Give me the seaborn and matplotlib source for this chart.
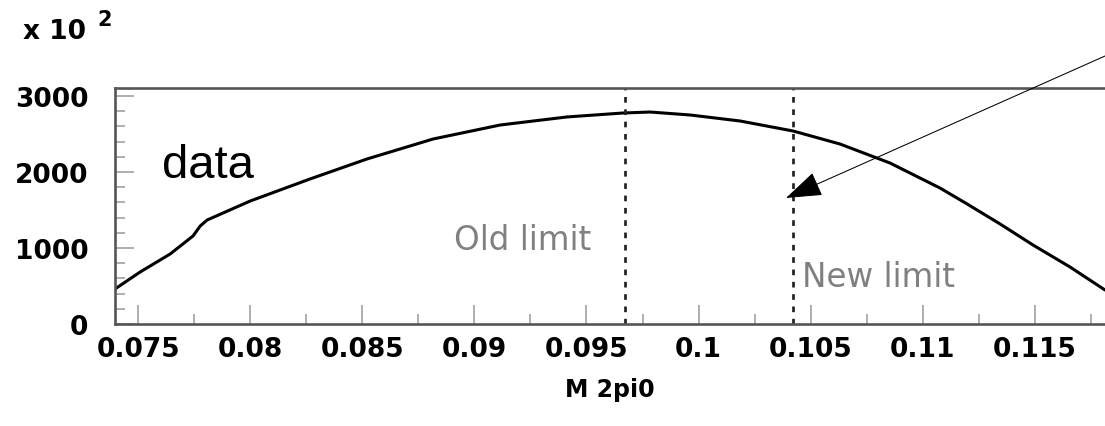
import numpy as np
import pandas as pd
import seaborn as sns
import matplotlib.pyplot as plt
from matplotlib.ticker import MultipleLocator, FuncFormatter

# M(2pi0) spectrum
mass = [0.07397, 0.07509, 0.07643, 0.07745, 0.07777, 0.07808, 0.08000, 0.08267,
        0.08521, 0.08816, 0.09115, 0.09413, 0.09663, 0.09784, 0.09962, 0.10185,
        0.10422, 0.10631, 0.10854, 0.11077, 0.11198, 0.11345, 0.11492, 0.11657,
        0.11813]
counts = [461, 684, 921, 1158, 1289, 1368, 1618, 1908,
          2171, 2434, 2618, 2724, 2776, 2789, 2750, 2671,
          2539, 2368, 2118, 1789, 1579, 1316, 1039, 750,
          447]

old_limit = 0.09672
new_limit = 0.10422
x_range = (0.07397, 0.11813)
y_range = (0, 3105)

df = pd.DataFrame({"mass": mass, "counts": counts})

sns.set_style("white")
plt.rcParams["font.family"] = ["DejaVu Sans"]
plt.rcParams["text.color"] = "black"

fig = plt.figure(figsize=(11.05, 4.27), dpi=100)
ax = fig.add_axes([115 / 1105, 102 / 427, 990 / 1105, 236 / 427])

sns.lineplot(data=df, x="mass", y="counts", color="black", linewidth=2.2, ax=ax)

dash = (0, (2.1, 2.45))
ax.axvline(old_limit, color="#222222", linewidth=1.95, linestyle=dash)
ax.axvline(new_limit, color="#222222", linewidth=1.95, linestyle=dash)

ax.set_xlim(*x_range)
ax.set_ylim(*y_range)

ax.xaxis.set_major_locator(MultipleLocator(0.005))
ax.xaxis.set_minor_locator(MultipleLocator(0.0025))
ax.yaxis.set_major_locator(MultipleLocator(1000))
ax.yaxis.set_minor_locator(MultipleLocator(200))
ax.xaxis.set_major_formatter(FuncFormatter(lambda v, p: f"{v:g}"))
ax.yaxis.set_major_formatter(FuncFormatter(lambda v, p: f"{v:.0f}"))

ax.tick_params(axis="both", which="both", direction="in", color="#999999",
               width=1.1, bottom=True, left=True, labelcolor="black")
ax.tick_params(axis="both", which="major", length=14, labelsize=19)
ax.tick_params(axis="both", which="minor", length=7)
ax.tick_params(axis="x", which="major", pad=8.5)
ax.tick_params(axis="y", which="major", pad=19)
for lab in ax.get_xticklabels() + ax.get_yticklabels():
    lab.set_fontweight("bold")

for side in ["left", "bottom", "top"]:
    ax.spines[side].set_visible(True)
    ax.spines[side].set_color("#555555")
    ax.spines[side].set_linewidth(1.9)
ax.spines["right"].set_visible(False)

ax.set_xlabel("M 2pi0", fontsize=17, fontweight="bold", labelpad=11, color="black")
ax.set_ylabel("")

# ROOT-style exponent above the y axis
fig.text(23 / 1105, 1 - 39 / 427, "x 10", fontsize=19, fontweight="bold", va="baseline")
fig.text(97 / 1105, 1 - 26 / 427, "2", fontsize=15, fontweight="bold", va="baseline")

ax.text(0.07607, 1934, "data", fontsize=34, family="Liberation Sans",
        color="black", va="baseline")
ax.text(0.08909, 987, "Old limit", fontsize=23.5, color="#808080", va="baseline")
ax.text(0.10462, 500, "New limit", fontsize=23.5, color="#808080", va="baseline")

ax.annotate("", xy=(0.10390, 1658), xycoords="data",
            xytext=(1.02, 0.8895), textcoords="figure fraction",
            arrowprops=dict(arrowstyle="-|>,head_length=2.3,head_width=0.8",
                            mutation_scale=10, color="black", lw=0.75,
                            shrinkA=0, shrinkB=0),
            annotation_clip=False)

fig.savefig("out.png", dpi=100)
